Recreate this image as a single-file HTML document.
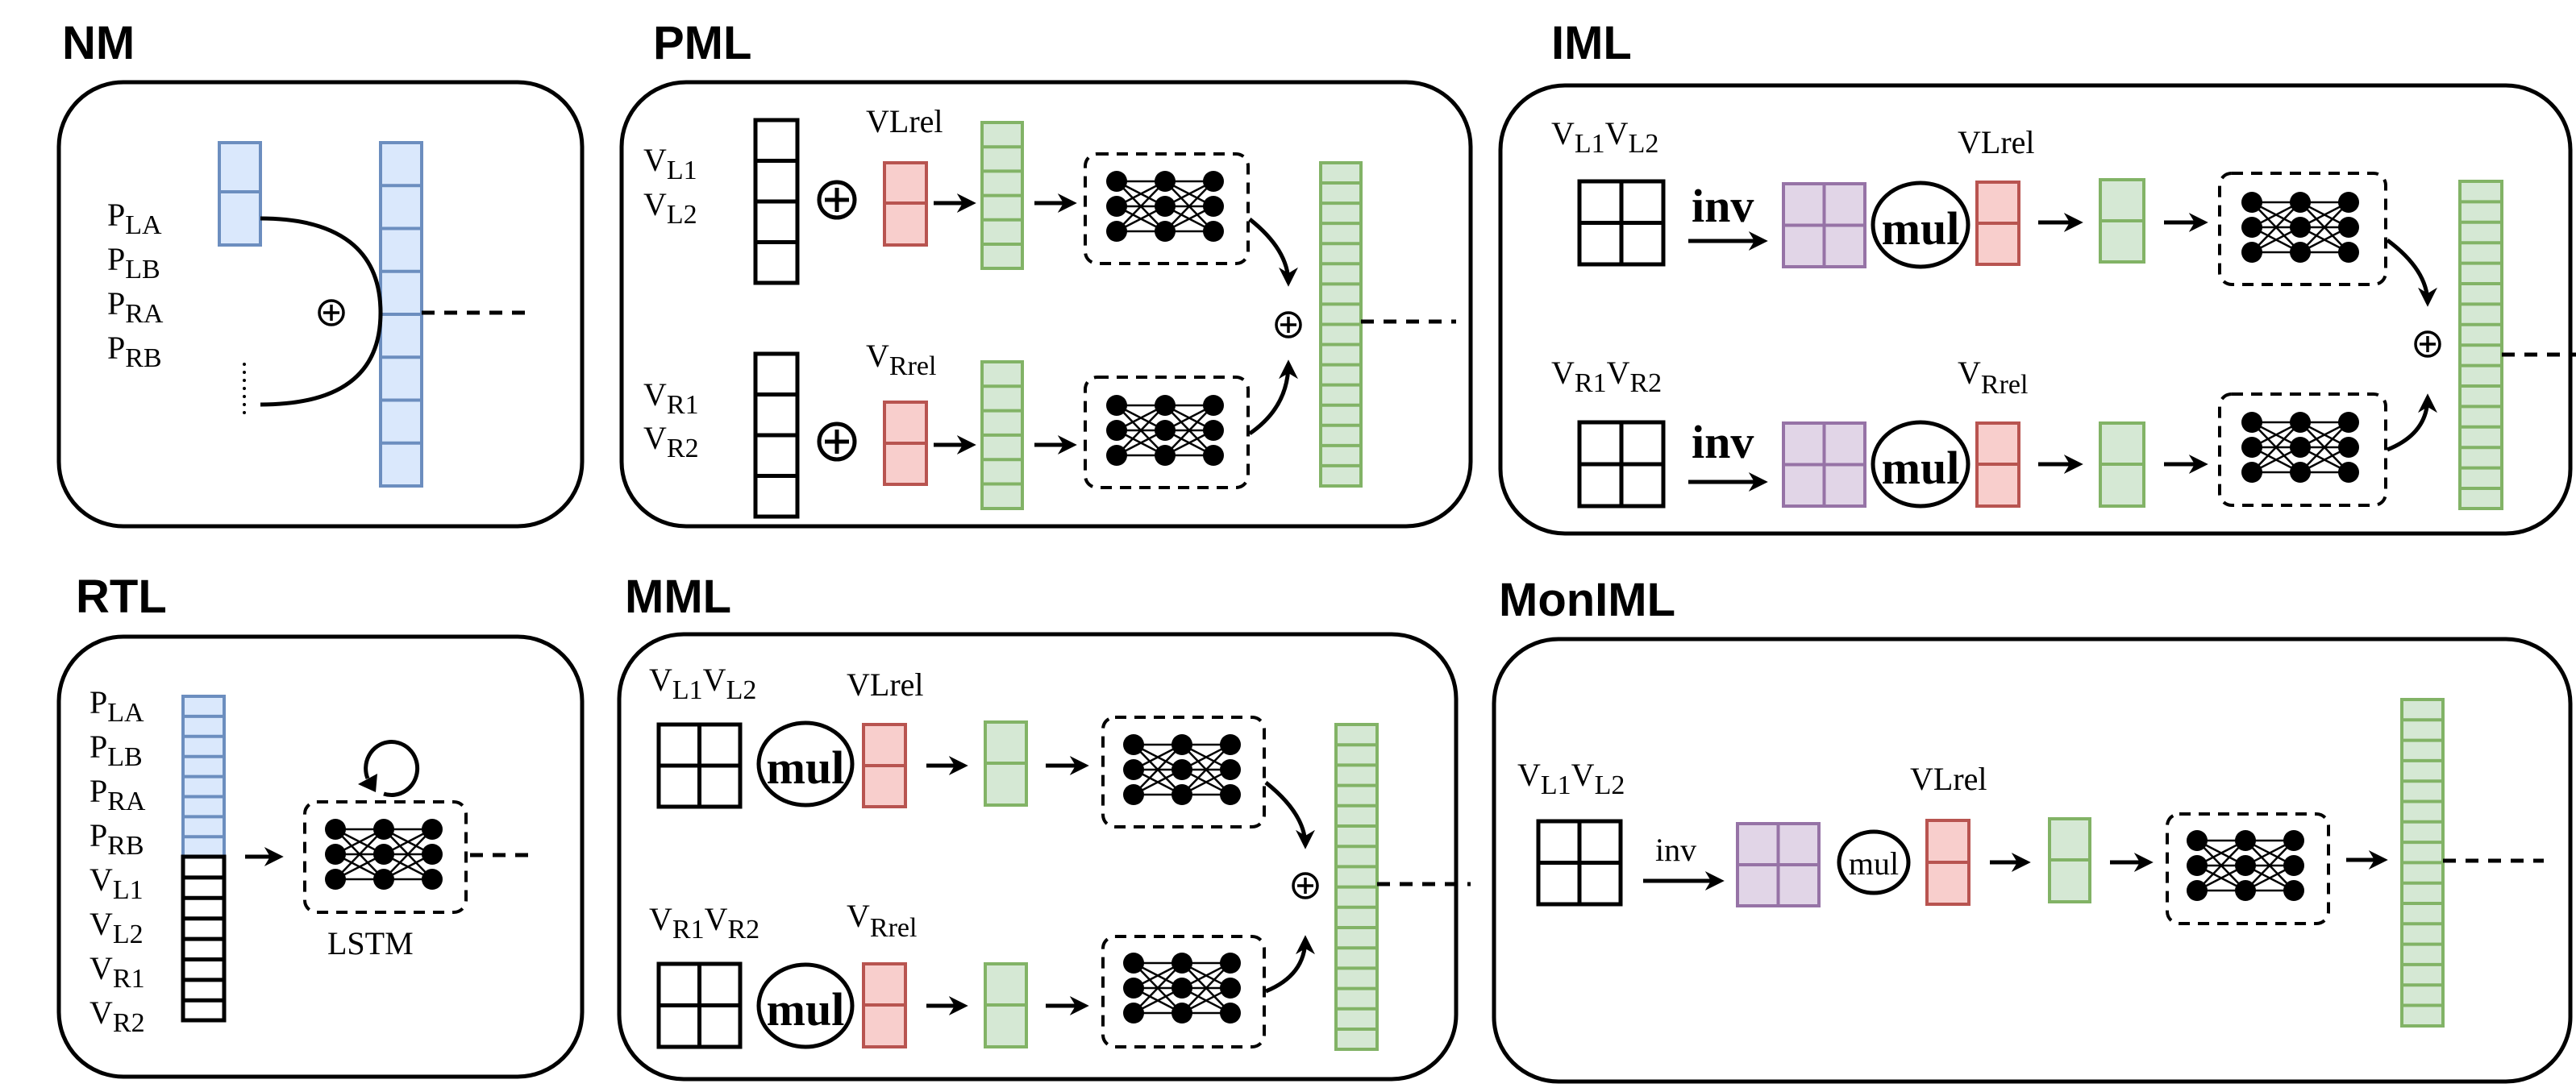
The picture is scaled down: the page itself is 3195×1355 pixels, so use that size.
<!DOCTYPE html>
<html><head><meta charset="utf-8"><style>
html,body{margin:0;padding:0;background:#fff}
svg{display:block}
.t{font-family:"Liberation Sans",Arial,sans-serif;font-weight:bold;font-size:58px}
.s{font-family:"Liberation Serif","Times New Roman",serif;font-size:40px}
.sub{font-size:34px}
.b{font-family:"Liberation Serif",serif;font-weight:bold;font-size:58px}
.box{fill:none;stroke:#000;stroke-width:5}
.blk{fill:#fff;stroke:#000;stroke-width:5}
.bl{fill:#dae8fc;stroke:#6c8ebf;stroke-width:4}
.gr{fill:#d5e8d4;stroke:#82b366;stroke-width:4}
.rd{fill:#f8cecc;stroke:#b85450;stroke-width:4}
.pu{fill:#e1d5e7;stroke:#9673a6;stroke-width:4}
.dash{fill:none;stroke:#000;stroke-width:4;stroke-dasharray:14 10}
.dl{stroke:#000;stroke-width:5;stroke-dasharray:16 12}
.ar{stroke:#000;stroke-width:5;fill:none;marker-end:url(#ah)}
</style></head><body>
<svg width="3195" height="1355" viewBox="0 0 3195 1355" xmlns="http://www.w3.org/2000/svg">
<defs>
<marker id="ah" markerUnits="userSpaceOnUse" markerWidth="24" markerHeight="24" viewBox="0 0 10 10" refX="8" refY="5" orient="auto"><path d="M0,0 L10,5 L0,10 L3,5 z" fill="#000"/></marker>
<g id="nn">
<g stroke="#000" stroke-width="2.5">
<path d="M0 0L60 0M0 0L60 31M0 0L60 62M0 31L60 0M0 31L60 31M0 31L60 62M0 62L60 0M0 62L60 31M0 62L60 62"/>
<path d="M60 0L120 0M60 0L120 31M60 0L120 62M60 31L120 0M60 31L120 31M60 31L120 62M60 62L120 0M60 62L120 31M60 62L120 62"/>
</g>
<g fill="#000"><circle cx="0" cy="0" r="13"/><circle cx="0" cy="31" r="13"/><circle cx="0" cy="62" r="13"/><circle cx="60" cy="0" r="13"/><circle cx="60" cy="31" r="13"/><circle cx="60" cy="62" r="13"/><circle cx="120" cy="0" r="13"/><circle cx="120" cy="31" r="13"/><circle cx="120" cy="62" r="13"/></g>
</g>
<g id="opl"><circle cx="0" cy="0" r="15" fill="none" stroke="#000" stroke-width="3.5"/><path d="M0 -10V10M-10 0H10" stroke="#000" stroke-width="3.5"/></g>
<g id="opb"><circle cx="0" cy="0" r="22" fill="none" stroke="#000" stroke-width="5"/><path d="M0 -15V15M-15 0H15" stroke="#000" stroke-width="5"/></g>
</defs>

<!-- ===== NM ===== -->
<text class="t" x="77" y="73">NM</text>
<rect class="box" x="73" y="102" width="649" height="551" rx="80"/>
<rect class="bl" x="272" y="177" width="51" height="127"/><line x1="272" x2="323" y1="238" y2="238" stroke="#6c8ebf" stroke-width="4"/>
<rect class="bl" x="472" y="177" width="51" height="426"/>
<line x1="497.5" x2="497.5" y1="228.25" y2="585" stroke="#6c8ebf" stroke-width="51" stroke-dasharray="4 49.25"/>
<text class="s" x="133" y="280">P<tspan class="sub" dy="10">LA</tspan></text>
<text class="s" x="133" y="335">P<tspan class="sub" dy="10">LB</tspan></text>
<text class="s" x="133" y="390">P<tspan class="sub" dy="10">RA</tspan></text>
<text class="s" x="133" y="445">P<tspan class="sub" dy="10">RB</tspan></text>
<path d="M323 271 C420 271 472 310 472 388 C472 466 420 502 323 502" fill="none" stroke="#000" stroke-width="5"/>
<use href="#opl" x="411" y="388"/>
<line x1="303" x2="303" y1="452" y2="516" stroke="#000" stroke-width="4" stroke-linecap="round" stroke-dasharray="0 10"/>
<line class="dl" x1="523" x2="657" y1="388" y2="388"/>

<!-- ===== PML ===== -->
<text class="t" x="810" y="73">PML</text>
<rect class="box" x="771" y="102" width="1053" height="551" rx="80"/>
<text class="s" x="798" y="212">V<tspan class="sub" dy="10">L1</tspan></text>
<text class="s" x="798" y="267">V<tspan class="sub" dy="10">L2</tspan></text>
<text class="s" x="798" y="503">V<tspan class="sub" dy="10">R1</tspan></text>
<text class="s" x="798" y="557">V<tspan class="sub" dy="10">R2</tspan></text>
<rect class="blk" x="937" y="149" width="52" height="202"/><path d="M937 199.5H989M937 250H989M937 300.5H989" stroke="#000" stroke-width="5"/>
<rect class="blk" x="937" y="439" width="52" height="202"/><path d="M937 489.5H989M937 540H989M937 590.5H989" stroke="#000" stroke-width="5"/>
<use href="#opb" x="1038" y="248"/><use href="#opb" x="1038" y="548"/>
<text class="s" x="1074" y="164">VLrel</text>
<text class="s" x="1074" y="455">V<tspan class="sub" dy="10">Rrel</tspan></text>
<rect class="rd" x="1097" y="202" width="52" height="102"/><line x1="1097" x2="1149" y1="252" y2="252" stroke="#b85450" stroke-width="4"/>
<rect class="rd" x="1097" y="499" width="52" height="102"/><line x1="1097" x2="1149" y1="550" y2="550" stroke="#b85450" stroke-width="4"/>
<line class="ar" x1="1158" x2="1206" y1="252" y2="252"/><line class="ar" x1="1158" x2="1206" y1="552" y2="552"/>
<rect class="gr" x="1218" y="152" width="50" height="181"/><line x1="1243" x2="1243" y1="180.2" y2="330" stroke="#82b366" stroke-width="50" stroke-dasharray="4 26.2"/>
<rect class="gr" x="1218" y="449" width="50" height="182"/><line x1="1243" x2="1243" y1="477.3" y2="628" stroke="#82b366" stroke-width="50" stroke-dasharray="4 26.3"/>
<line class="ar" x1="1283" x2="1331" y1="252" y2="252"/><line class="ar" x1="1283" x2="1331" y1="552" y2="552"/>
<rect class="dash" x="1346" y="191" width="202" height="136" rx="15"/><use href="#nn" x="1385" y="225"/>
<rect class="dash" x="1346" y="468" width="202" height="137" rx="15"/><use href="#nn" x="1385" y="503"/>
<path class="ar" d="M1550 272 Q1598 310 1598 351"/><path class="ar" d="M1550 538 Q1598 505 1598 451"/>
<use href="#opl" x="1598" y="403"/>
<rect class="gr" x="1638" y="202" width="50" height="401"/><line x1="1663" x2="1663" y1="225.06" y2="600" stroke="#82b366" stroke-width="50" stroke-dasharray="4 21.06"/>
<line class="dl" x1="1688" x2="1806" y1="399" y2="399"/>

<!-- ===== IML ===== -->
<text class="t" x="1924" y="73">IML</text>
<rect class="box" x="1861" y="106" width="1327" height="556" rx="80"/>
<text class="s" x="1924" y="179">V<tspan class="sub" dy="10">L1</tspan><tspan dy="-10">V</tspan><tspan class="sub" dy="10">L2</tspan></text>
<text class="s" x="1924" y="476">V<tspan class="sub" dy="10">R1</tspan><tspan dy="-10">V</tspan><tspan class="sub" dy="10">R2</tspan></text>
<rect class="blk" x="1959" y="225" width="104" height="103"/><path d="M2011 225V328M1959 276.5H2063" stroke="#000" stroke-width="5"/>
<rect class="blk" x="1959" y="524" width="104" height="104"/><path d="M2011 524V628M1959 576H2063" stroke="#000" stroke-width="5"/>
<text class="b" x="2098" y="275">inv</text><line class="ar" x1="2094" x2="2188" y1="299" y2="299"/>
<text class="b" x="2098" y="568">inv</text><line class="ar" x1="2094" x2="2188" y1="598" y2="598"/>
<rect class="pu" x="2212" y="228" width="101" height="103"/><path d="M2262.5 228V331M2212 279.5H2313" stroke="#9673a6" stroke-width="4"/>
<rect class="pu" x="2212" y="525" width="101" height="103"/><path d="M2262.5 525V628M2212 576.5H2313" stroke="#9673a6" stroke-width="4"/>
<ellipse cx="2382" cy="279" rx="59" ry="52" fill="none" stroke="#000" stroke-width="5"/><text class="b" x="2382" y="303" text-anchor="middle" font-size="60">mul</text>
<ellipse cx="2382" cy="576" rx="59" ry="52" fill="none" stroke="#000" stroke-width="5"/><text class="b" x="2382" y="600" text-anchor="middle" font-size="60">mul</text>
<text class="s" x="2428" y="190">VLrel</text>
<text class="s" x="2428" y="476">V<tspan class="sub" dy="12">Rrel</tspan></text>
<rect class="rd" x="2452" y="226" width="52" height="102"/><line x1="2452" x2="2504" y1="277" y2="277" stroke="#b85450" stroke-width="4"/>
<rect class="rd" x="2452" y="525" width="52" height="103"/><line x1="2452" x2="2504" y1="576" y2="576" stroke="#b85450" stroke-width="4"/>
<line class="ar" x1="2528" x2="2579" y1="276" y2="276"/><line class="ar" x1="2528" x2="2579" y1="576" y2="576"/>
<rect class="gr" x="2605" y="223" width="54" height="102"/><line x1="2605" x2="2659" y1="274" y2="274" stroke="#82b366" stroke-width="4"/>
<rect class="gr" x="2605" y="525" width="54" height="103"/><line x1="2605" x2="2659" y1="576" y2="576" stroke="#82b366" stroke-width="4"/>
<line class="ar" x1="2684" x2="2734" y1="276" y2="276"/><line class="ar" x1="2684" x2="2734" y1="576" y2="576"/>
<rect class="dash" x="2753" y="215" width="206" height="138" rx="15"/><use href="#nn" x="2793" y="251"/>
<rect class="dash" x="2753" y="489" width="206" height="138" rx="15"/><use href="#nn" x="2793" y="524"/>
<path class="ar" d="M2961 298 Q3011 335 3011 376"/><path class="ar" d="M2961 558 Q3011 538 3011 493"/>
<use href="#opl" x="3011" y="427"/>
<rect class="gr" x="3051" y="225" width="52" height="406"/><line x1="3077" x2="3077" y1="248.4" y2="628" stroke="#82b366" stroke-width="52" stroke-dasharray="4 21.4"/>
<line class="dl" x1="3103" x2="3195" y1="440" y2="440"/>

<!-- ===== RTL ===== -->
<text class="t" x="94" y="760">RTL</text>
<rect class="box" x="73" y="790" width="649" height="546" rx="80"/>
<rect class="bl" x="227" y="864" width="51" height="199"/><line x1="252.5" x2="252.5" y1="886.9" y2="1060" stroke="#6c8ebf" stroke-width="51" stroke-dasharray="4 20.9"/>
<rect class="blk" x="227" y="1063" width="51" height="203" stroke-width="5"/><line x1="252.5" x2="252.5" y1="1086.4" y2="1262" stroke="#000" stroke-width="51" stroke-dasharray="5 20.4"/>
<text class="s" x="111" y="885">P<tspan class="sub" dy="10">LA</tspan></text>
<text class="s" x="111" y="940">P<tspan class="sub" dy="10">LB</tspan></text>
<text class="s" x="111" y="995">P<tspan class="sub" dy="10">RA</tspan></text>
<text class="s" x="111" y="1050">P<tspan class="sub" dy="10">RB</tspan></text>
<text class="s" x="111" y="1105">V<tspan class="sub" dy="10">L1</tspan></text>
<text class="s" x="111" y="1160">V<tspan class="sub" dy="10">L2</tspan></text>
<text class="s" x="111" y="1215">V<tspan class="sub" dy="10">R1</tspan></text>
<text class="s" x="111" y="1270">V<tspan class="sub" dy="10">R2</tspan></text>
<line class="ar" x1="304" x2="347" y1="1063" y2="1063"/>
<rect class="dash" x="378" y="995" width="200" height="137" rx="15"/><use href="#nn" x="416" y="1029"/>
<path class="ar" d="M476 985 A32 33 0 1 0 456 966" style="marker-end:none"/>
<path d="M444 973 L466 983 L468 960 Z" fill="#000"/>
<line class="dl" x1="583" x2="658" y1="1061" y2="1061"/>
<text class="s" x="406" y="1184" font-size="46">LSTM</text>

<!-- ===== MML ===== -->
<text class="t" x="775" y="760">MML</text>
<rect class="box" x="768" y="787" width="1038" height="552" rx="80"/>
<text class="s" x="805" y="857">V<tspan class="sub" dy="10">L1</tspan><tspan dy="-10">V</tspan><tspan class="sub" dy="10">L2</tspan></text>
<text class="s" x="805" y="1154">V<tspan class="sub" dy="10">R1</tspan><tspan dy="-10">V</tspan><tspan class="sub" dy="10">R2</tspan></text>
<text class="s" x="1050" y="863">VLrel</text>
<text class="s" x="1050" y="1150">V<tspan class="sub" dy="12">Rrel</tspan></text>
<rect class="blk" x="817" y="899" width="101" height="102"/><path d="M867.5 899V1001M817 950H918" stroke="#000" stroke-width="5"/>
<rect class="blk" x="817" y="1196" width="101" height="103"/><path d="M867.5 1196V1299M817 1247.5H918" stroke="#000" stroke-width="5"/>
<ellipse cx="999" cy="948" rx="58" ry="51" fill="none" stroke="#000" stroke-width="5"/><text class="b" x="999" y="972" text-anchor="middle" font-size="60">mul</text>
<ellipse cx="999" cy="1248" rx="58" ry="51" fill="none" stroke="#000" stroke-width="5"/><text class="b" x="999" y="1272" text-anchor="middle" font-size="60">mul</text>
<rect class="rd" x="1071" y="899" width="52" height="102"/><line x1="1071" x2="1123" y1="950" y2="950" stroke="#b85450" stroke-width="4"/>
<rect class="rd" x="1071" y="1196" width="52" height="103"/><line x1="1071" x2="1123" y1="1247" y2="1247" stroke="#b85450" stroke-width="4"/>
<line class="ar" x1="1149" x2="1196" y1="950" y2="950"/><line class="ar" x1="1149" x2="1196" y1="1248" y2="1248"/>
<rect class="gr" x="1222" y="896" width="51" height="103"/><line x1="1222" x2="1273" y1="947" y2="947" stroke="#82b366" stroke-width="4"/>
<rect class="gr" x="1222" y="1196" width="51" height="103"/><line x1="1222" x2="1273" y1="1247" y2="1247" stroke="#82b366" stroke-width="4"/>
<line class="ar" x1="1297" x2="1346" y1="950" y2="950"/><line class="ar" x1="1297" x2="1346" y1="1248" y2="1248"/>
<rect class="dash" x="1368" y="890" width="200" height="136" rx="15"/><use href="#nn" x="1406" y="924"/>
<rect class="dash" x="1368" y="1162" width="200" height="137" rx="15"/><use href="#nn" x="1406" y="1195"/>
<path class="ar" d="M1570 971 Q1619 1010 1619 1049"/><path class="ar" d="M1570 1230 Q1619 1210 1619 1165"/>
<use href="#opl" x="1619" y="1099"/>
<rect class="gr" x="1657" y="899" width="51" height="403"/><line x1="1682.5" x2="1682.5" y1="922.2" y2="1299" stroke="#82b366" stroke-width="51" stroke-dasharray="4 21.2"/>
<line class="dl" x1="1708" x2="1824" y1="1097" y2="1097"/>

<!-- ===== MonIML ===== -->
<text class="t" x="1859" y="764">MonIML</text>
<rect class="box" x="1853" y="793" width="1335" height="549" rx="80"/>
<text class="s" x="1882" y="975">V<tspan class="sub" dy="10">L1</tspan><tspan dy="-10">V</tspan><tspan class="sub" dy="10">L2</tspan></text>
<rect class="blk" x="1908" y="1019" width="102" height="103"/><path d="M1959 1019V1122M1908 1070.5H2010" stroke="#000" stroke-width="5"/>
<text class="s" x="2053" y="1068" font-size="44">inv</text>
<line class="ar" x1="2038" x2="2134" y1="1093" y2="1093"/>
<rect class="pu" x="2155" y="1022" width="101" height="102"/><path d="M2205.5 1022V1124M2155 1073H2256" stroke="#9673a6" stroke-width="4"/>
<ellipse cx="2324" cy="1070" rx="43" ry="38" fill="none" stroke="#000" stroke-width="5"/><text class="s" x="2324" y="1085" text-anchor="middle" font-size="44">mul</text>
<text class="s" x="2369" y="980">VLrel</text>
<rect class="rd" x="2390" y="1018" width="52" height="104"/><line x1="2390" x2="2442" y1="1070" y2="1070" stroke="#b85450" stroke-width="4"/>
<line class="ar" x1="2468" x2="2514" y1="1070" y2="1070"/>
<rect class="gr" x="2542" y="1016" width="50" height="103"/><line x1="2542" x2="2592" y1="1067" y2="1067" stroke="#82b366" stroke-width="4"/>
<line class="ar" x1="2617" x2="2666" y1="1070" y2="1070"/>
<rect class="dash" x="2688" y="1010" width="200" height="136" rx="15"/><use href="#nn" x="2725" y="1043"/>
<line class="ar" x1="2910" x2="2957" y1="1067" y2="1067"/>
<rect class="gr" x="2979" y="868" width="51" height="405"/><line x1="3004.5" x2="3004.5" y1="891.3" y2="1270" stroke="#82b366" stroke-width="51" stroke-dasharray="4 21.3"/>
<line class="dl" x1="3030" x2="3155" y1="1068" y2="1068"/>
</svg>
</body></html>
